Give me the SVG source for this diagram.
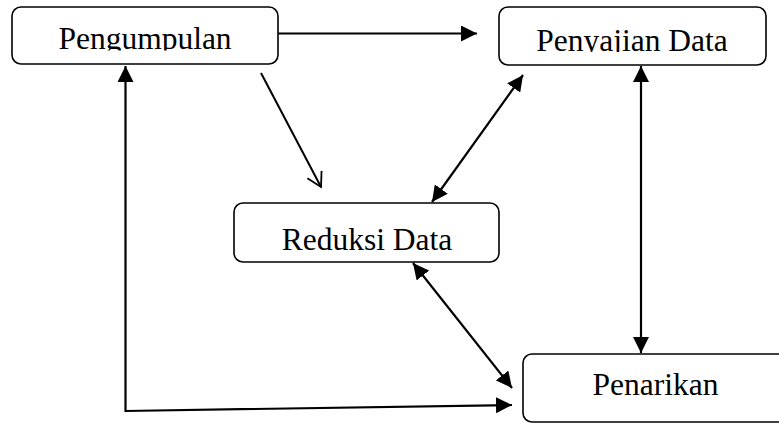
<svg xmlns="http://www.w3.org/2000/svg" width="779" height="423" viewBox="0 0 779 423">
<style>
.box{fill:#fff;stroke:#000;stroke-width:1.6}
.lbl{font-family:"Liberation Serif","Times New Roman",serif;font-size:31.5px;fill:#000;text-anchor:middle}
.ln{fill:none;stroke:#000;stroke-width:2.2}
.thin{fill:none;stroke:#000;stroke-width:2}
</style>
<defs>
<marker id="ah" markerUnits="userSpaceOnUse" markerWidth="17" markerHeight="16" refX="16" refY="8" orient="auto-start-reverse" viewBox="0 0 17 16">
<path d="M0,0 L16,8 L0,16 z" fill="#000"/>
</marker>
<marker id="open" markerUnits="userSpaceOnUse" markerWidth="20" markerHeight="20" refX="15" refY="10" orient="auto" viewBox="0 0 20 20">
<path d="M1,2 L15,10 L1,18" fill="none" stroke="#000" stroke-width="1.8"/>
</marker>
<clipPath id="c1"><rect x="12" y="7" width="266" height="43.5"/></clipPath>
<clipPath id="c2"><rect x="499" y="7" width="267" height="45"/></clipPath>
</defs>
<g id="n-pengumpulan">
<rect class="box" x="12" y="7" width="266" height="57" rx="9"/>
<text class="lbl" x="145" y="48.5" clip-path="url(#c1)">Pengumpulan</text>
</g>
<g id="n-penyajian">
<rect class="box" x="499" y="7" width="267" height="58" rx="9"/>
<text class="lbl" x="632" y="50.5" clip-path="url(#c2)">Penyajian Data</text>
</g>
<g id="n-reduksi">
<rect class="box" x="234" y="203" width="265" height="59" rx="9"/>
<text class="lbl" x="367" y="250">Reduksi Data</text>
</g>
<g id="n-penarikan">
<rect class="box" x="523" y="354" width="270" height="68" rx="9"/>
<text class="lbl" x="655.5" y="395">Penarikan</text>
</g>
<g id="connectors">
<line class="ln" x1="278" y1="33.5" x2="477" y2="33.5" marker-end="url(#ah)"/>
<line class="thin" x1="261" y1="73" x2="321" y2="187" marker-end="url(#open)"/>
<line class="ln" x1="523" y1="75" x2="432" y2="202" marker-start="url(#ah)" marker-end="url(#ah)"/>
<line class="ln" x1="641" y1="66" x2="641" y2="353" marker-start="url(#ah)" marker-end="url(#ah)"/>
<line class="ln" x1="413" y1="263" x2="512" y2="388" marker-start="url(#ah)" marker-end="url(#ah)"/>
<polyline class="ln" points="512,405 125.5,411 125.5,66" marker-start="url(#ah)" marker-end="url(#ah)"/>
</g>
</svg>
